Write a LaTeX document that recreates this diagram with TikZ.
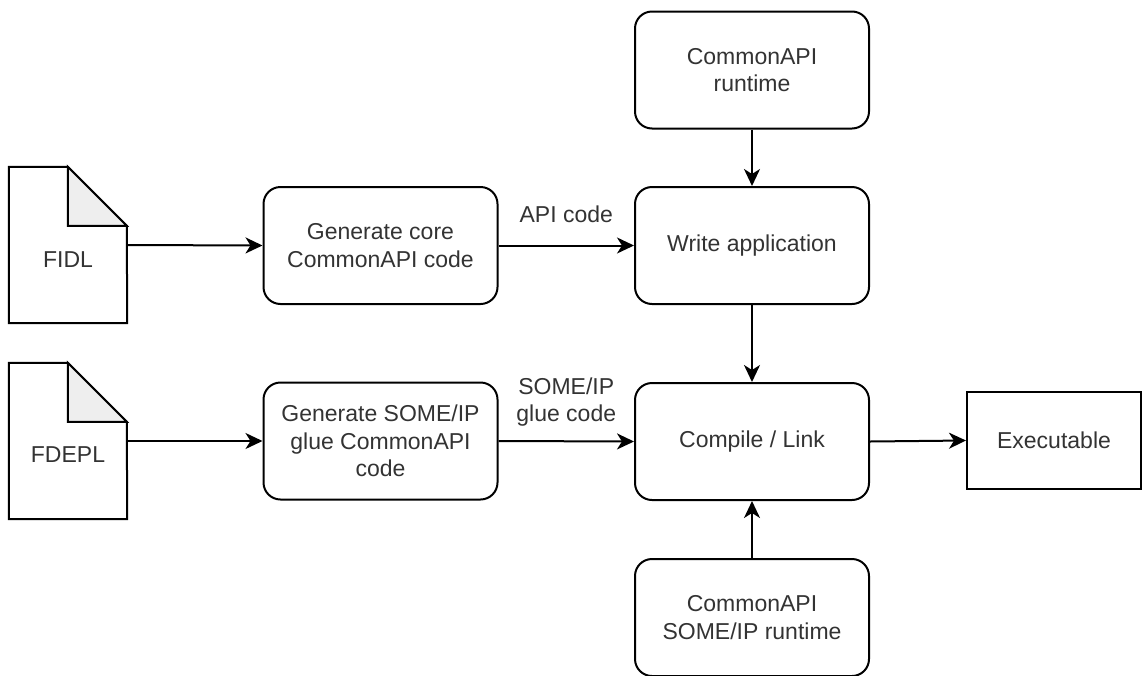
\documentclass[tikz,border=0pt]{standalone}
\usepackage{fontspec}
\setmainfont{Liberation Sans}
\usetikzlibrary{arrows.meta}
\definecolor{txt}{HTML}{333333}
\definecolor{foldfill}{HTML}{EEEEEE}
\tikzset{
  every node/.style={font=\fontsize{23}{27.5}\selectfont, text=txt, inner sep=0pt},
  stepbox/.style={draw=black, line width=2pt, rounded corners=17pt, fill=white,
    minimum width=234pt, minimum height=117pt, align=center},
  plainbox/.style={draw=black, line width=2pt, fill=white,
    minimum width=174pt, minimum height=97pt, align=center},
  docarea/.style={minimum width=118pt, minimum height=156pt},
  docline/.style={draw=black, line width=2pt, line join=miter},
  conn/.style={draw=black, line width=2pt,
    -{Stealth[length=17pt, width=16pt, inset=5pt]}},
  edgelbl/.style={align=center}
}
\begin{document}
\begin{tikzpicture}[x=1pt, y=-1pt]
  \useasboundingbox (0,0) rectangle (1142,675);
  \fill[white] (0,0) rectangle (1142,675);

  % input documents (folded-corner sheets)
  \node[docarea] (fidl)  at (68,245) {};
  \node[docarea] (fdepl) at (68,441) {};
  \foreach \d in {fidl,fdepl} {
    \path[docline, fill=white] (\d.north west) -- ++(59,0) -- ++(59,59)
      -- (\d.south east) -- (\d.south west) -- cycle;
    \path[docline, fill=foldfill] (\d.north west) ++(59,0) -- ++(0,59)
      -- ++(59,0) -- cycle;
  }
  \node (fidltxt)  at (68,260) {FIDL};
  \node (fdepltxt) at (68,455) {FDEPL};

  % generator steps
  \node[stepbox] (core) at (380.5,245.5) {Generate core\\CommonAPI code};
  \node[stepbox] (glue) at (380.5,441) {Generate SOME/IP\\glue CommonAPI\\code};

  % application column
  \node[stepbox] (rt)      at (752,70)    {CommonAPI\\runtime};
  \node[stepbox] (write)   at (752,245.5) {Write application};
  \node[stepbox] (compile) at (752,441.5) {Compile / Link};
  \node[stepbox] (someip)  at (752,617.5) {CommonAPI\\SOME/IP runtime};

  % result
  \node[plainbox] (exe) at (1054,440.5) {Executable};

  % connectors
  \draw[conn] (fidl.east) -- (core.west);
  \draw[conn] (fdepl.east) -- (glue.west);
  \draw[conn] (core.east) -- (write.west)
    node[edgelbl, midway, yshift=31pt] {API code};
  \draw[conn] (glue.east) -- (compile.west)
    node[edgelbl, midway, yshift=39pt] {SOME/IP\\glue code};
  \draw[conn] (rt.south) -- (write.north);
  \draw[conn] (write.south) -- (compile.north);
  \draw[conn] (someip.north) -- (compile.south);
  \draw[conn] (compile.east) -- (exe.west);
\end{tikzpicture}
\end{document}
